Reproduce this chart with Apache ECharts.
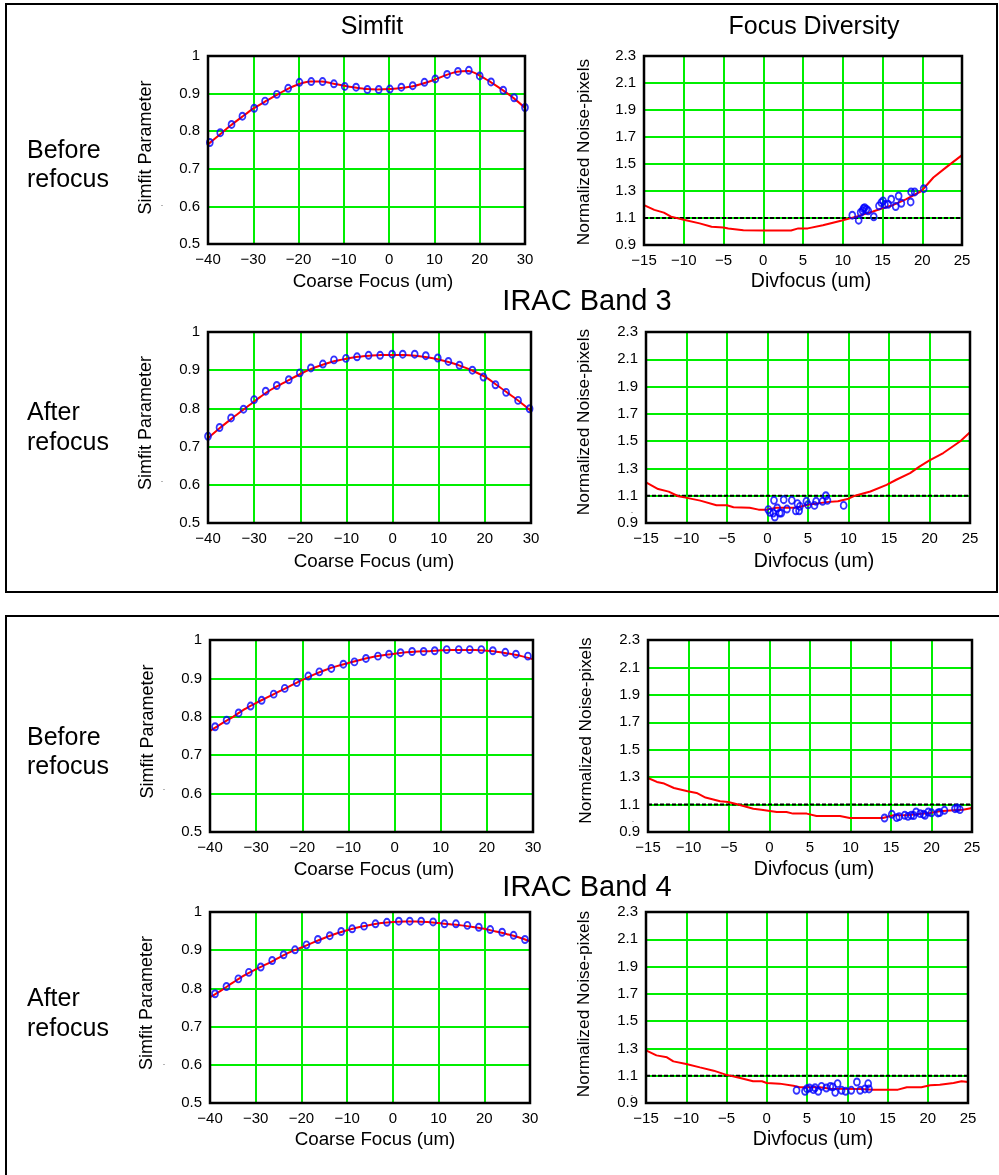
<!DOCTYPE html>
<html>
<head>
<meta charset="utf-8">
<script src="https://cdn.jsdelivr.net/npm/echarts@6/dist/echarts.min.js"></script>
<style>
html,body{margin:0;padding:0;background:#fff;}
#c{width:999px;height:1175px;}
</style>
</head>
<body>
<div id="c"></div>
<script>
// ---------------- DATA ----------------
// Axis ranges / tick labels
const simfitXRange = [-40, 30, 10];      // min, max, step
const simfitYRange = [0.5, 1.0, 0.1];
const noiseXRange  = [-15, 25, 5];
const noiseYRange  = [0.9, 2.3, 0.2];
const noiseThreshold = 1.1;

const columnTitles = ['Simfit', 'Focus Diversity'];
const bandTitles = ['IRAC Band 3', 'IRAC Band 4'];
const rowLabels = [['Before', 'refocus'], ['After', 'refocus'], ['Before', 'refocus'], ['After', 'refocus']];
const simfitXName = 'Coarse Focus (um)';
const simfitYName = 'Simfit Parameter';
const noiseXName = 'Divfocus (um)';
const noiseYName = 'Normalized Noise-pixels';

// Band 3, before refocus, Simfit
const b3BeforeSimfitPts = [[-39.6,0.770],[-37.3,0.796],[-34.8,0.818],[-32.4,0.840],[-29.8,0.861],[-27.4,0.880],[-24.8,0.898],[-22.3,0.914],[-19.8,0.930],[-17.2,0.932],[-14.7,0.932],[-12.2,0.926],[-9.8,0.919],[-7.3,0.917],[-4.8,0.911],[-2.3,0.911],[0.15,0.912],[2.7,0.917],[5.2,0.921],[7.8,0.930],[10.2,0.939],[12.8,0.951],[15.2,0.959],[17.6,0.962],[20.0,0.947],[22.5,0.931],[25.2,0.909],[27.6,0.889],[30.0,0.863]];
const b3BeforeSimfitFit = [[-40,0.765],[-37.5,0.790],[-35,0.815],[-32.5,0.838],[-30,0.860],[-27.5,0.878],[-25,0.895],[-22.5,0.912],[-20,0.925],[-17.5,0.932],[-15,0.932],[-12.5,0.927],[-10,0.921],[-7.5,0.916],[-5,0.912],[-2.5,0.911],[0,0.912],[2.5,0.915],[5,0.919],[7.5,0.927],[10,0.937],[12.5,0.949],[15,0.958],[17.5,0.960],[20,0.948],[22.5,0.930],[25,0.910],[27.5,0.888],[30,0.862]];

// Band 3, before refocus, Focus diversity
const b3BeforeNoisePts = [[11.2,1.121],[12.0,1.084],[12.25,1.141],[12.5,1.153],[12.75,1.177],[12.97,1.165],[13.2,1.153],[13.9,1.109],[14.56,1.190],[14.85,1.214],[15.06,1.227],[15.7,1.202],[16.1,1.239],[16.66,1.185],[17.03,1.263],[17.37,1.209],[18.54,1.219],[18.6,1.293],[19.05,1.293],[20.18,1.317],[15.3,1.200],[12.6,1.170]];
const b3BeforeNoiseFit = [[-15,1.195],[-13.7,1.160],[-12.5,1.140],[-11.6,1.110],[-10,1.087],[-8,1.060],[-6.5,1.035],[-5,1.030],[-4.4,1.023],[-2.5,1.010],[0,1.008],[3.5,1.008],[4.4,1.023],[5.6,1.023],[7.5,1.047],[9.9,1.082],[11.7,1.110],[13.8,1.148],[14.9,1.170],[16.3,1.195],[18,1.240],[19.9,1.300],[21.4,1.400],[23,1.475],[25,1.566]];

// Band 3, after refocus, Simfit
const b3AfterSimfitPts = [[-40,0.727],[-37.5,0.750],[-35,0.775],[-32.3,0.798],[-30,0.823],[-27.5,0.845],[-25.1,0.860],[-22.5,0.875],[-20.1,0.893],[-17.7,0.906],[-15.1,0.916],[-12.7,0.927],[-10.1,0.931],[-7.7,0.935],[-5.2,0.939],[-2.7,0.939],[-0.1,0.942],[2.2,0.942],[4.8,0.942],[7.2,0.938],[9.8,0.932],[12.1,0.923],[14.5,0.913],[17.3,0.900],[19.7,0.882],[22.3,0.862],[24.6,0.842],[27.2,0.821],[29.7,0.799]];
const b3AfterSimfitFit = [[-40,0.722],[-37.5,0.748],[-35,0.772],[-32.5,0.795],[-30,0.818],[-27.5,0.840],[-25,0.858],[-22.5,0.874],[-20,0.890],[-17.5,0.904],[-15,0.915],[-12.5,0.924],[-10,0.930],[-7.5,0.935],[-5,0.938],[-2.5,0.940],[0,0.940],[2.5,0.940],[5,0.938],[7.5,0.934],[10,0.928],[12.5,0.920],[15,0.910],[17.5,0.898],[20,0.883],[22.5,0.862],[25,0.840],[27.5,0.818],[30,0.793]];

// Band 3, after refocus, Focus diversity
const b3AfterNoisePts = [[0.1,0.998],[0.3,0.978],[0.7,0.973],[0.9,0.944],[1.2,1.010],[1.5,0.973],[1.7,0.973],[0.8,1.066],[2.0,1.071],[2.4,1.002],[3.0,1.066],[3.5,0.990],[3.7,1.042],[3.9,0.990],[4.0,1.022],[4.8,1.059],[5.0,1.034],[5.8,1.029],[6.0,1.059],[6.8,1.059],[7.2,1.100],[7.4,1.066],[9.4,1.029]];
const b3AfterNoiseFit = [[-15,1.198],[-13.5,1.149],[-12.2,1.130],[-11,1.096],[-10.1,1.086],[-8.3,1.064],[-6.3,1.030],[-5,1.030],[-4.2,1.015],[-2.2,1.012],[-1.1,0.998],[-0.1,0.998],[1.1,1.012],[3.6,1.012],[4.8,1.032],[7.3,1.053],[8.7,1.060],[10,1.078],[10.8,1.100],[12.7,1.131],[14.7,1.180],[15.9,1.217],[17.6,1.266],[18.8,1.315],[20,1.359],[21.7,1.413],[23.8,1.499],[25,1.565]];

// Band 4, before refocus, Simfit
const b4BeforeSimfitPts = [[-38.9,0.774],[-36.4,0.791],[-33.8,0.810],[-31.2,0.828],[-28.8,0.843],[-26.2,0.859],[-23.8,0.874],[-21.2,0.889],[-18.7,0.906],[-16.3,0.917],[-13.7,0.926],[-11.1,0.937],[-8.7,0.943],[-6.2,0.952],[-3.6,0.958],[-1.2,0.963],[1.3,0.967],[3.8,0.970],[6.3,0.970],[8.7,0.972],[11.3,0.975],[13.9,0.975],[16.3,0.975],[18.8,0.975],[21.3,0.972],[24.0,0.968],[26.3,0.963],[28.9,0.958]];
const b4BeforeSimfitFit = [[-40,0.763],[-37.5,0.782],[-35,0.800],[-32.5,0.820],[-30,0.836],[-27.5,0.851],[-25,0.866],[-22.5,0.881],[-20,0.896],[-17.5,0.910],[-15,0.922],[-12.5,0.932],[-10,0.940],[-7.5,0.948],[-5,0.955],[-2.5,0.960],[0,0.964],[2.5,0.968],[5,0.970],[7.5,0.971],[10,0.973],[12.5,0.974],[15,0.974],[17.5,0.974],[20,0.972],[22.5,0.969],[25,0.964],[27.5,0.958],[30,0.950]];

// Band 4, before refocus, Focus diversity
const b4BeforeNoisePts = [[14.2,1.002],[15.1,1.029],[15.7,1.005],[16.0,1.012],[16.7,1.022],[17.1,1.014],[17.5,1.022],[17.8,1.020],[18.1,1.046],[18.6,1.034],[19.0,1.030],[19.2,1.022],[19.6,1.046],[20.0,1.040],[20.8,1.039],[21.0,1.042],[21.6,1.058],[22.9,1.070],[23.2,1.075],[23.5,1.063]];
const b4BeforeNoiseFit = [[-15,1.294],[-13.9,1.265],[-13,1.253],[-11.8,1.221],[-10.1,1.197],[-9,1.185],[-7.9,1.151],[-6.1,1.124],[-5.1,1.119],[-4,1.102],[-2,1.070],[-1,1.063],[0.9,1.046],[2.1,1.046],[2.9,1.034],[4.6,1.034],[5.8,1.017],[8.7,1.017],[9.9,1.002],[14,1.002],[15.3,1.022],[16.9,1.022],[18.1,1.029],[19.8,1.039],[21,1.051],[22.7,1.058],[23.9,1.063],[25,1.075]];

// Band 4, after refocus, Simfit
const b4AfterSimfitPts = [[-38.9,0.786],[-36.4,0.805],[-33.8,0.825],[-31.5,0.842],[-28.9,0.856],[-26.4,0.873],[-23.9,0.888],[-21.4,0.901],[-18.9,0.914],[-16.4,0.928],[-13.8,0.938],[-11.3,0.949],[-8.9,0.956],[-6.3,0.963],[-3.8,0.969],[-1.3,0.973],[1.3,0.976],[3.7,0.976],[6.2,0.976],[8.8,0.974],[11.3,0.969],[13.8,0.969],[16.3,0.965],[18.8,0.960],[21.3,0.954],[23.9,0.947],[26.4,0.939],[28.9,0.928]];
const b4AfterSimfitFit = [[-40,0.777],[-37.5,0.795],[-35,0.815],[-32.5,0.834],[-30,0.850],[-27.5,0.864],[-25,0.880],[-22.5,0.895],[-20,0.907],[-17.5,0.920],[-15,0.932],[-12.5,0.943],[-10,0.952],[-7.5,0.960],[-5,0.966],[-2.5,0.971],[0,0.974],[2.5,0.975],[5,0.975],[7.5,0.974],[10,0.971],[12.5,0.968],[15,0.965],[17.5,0.961],[20,0.956],[22.5,0.949],[25,0.942],[27.5,0.934],[30,0.923]];

// Band 4, after refocus, Focus diversity
const b4AfterNoisePts = [[3.7,0.993],[4.75,0.986],[5.3,1.010],[5.8,0.998],[6.4,0.986],[6.8,1.022],[7.4,1.010],[7.9,1.022],[8.5,0.978],[8.8,1.042],[9.3,0.993],[9.8,0.986],[10.5,0.993],[11.2,1.054],[11.6,0.993],[12.2,1.003],[12.6,1.042],[12.7,1.003],[5.0,1.005],[6.0,1.012],[8.2,1.018]];
const b4AfterNoiseFit = [[-15,1.286],[-13.7,1.249],[-12.4,1.235],[-11.6,1.205],[-10,1.186],[-8.3,1.161],[-6.6,1.137],[-5.1,1.108],[-3.3,1.083],[-1.7,1.059],[-0.6,1.059],[0,1.047],[1.6,1.042],[3.3,1.027],[4.1,1.015],[6.6,1.015],[7.9,1.005],[11.6,1.003],[13.2,0.998],[16.3,0.998],[17.4,1.015],[19.2,1.015],[20.3,1.030],[21.5,1.034],[23.2,1.047],[24.2,1.059],[25,1.054]];

// ---------------- LAYOUT / STYLE ----------------
const FONT = '"Liberation Sans", Arial, Helvetica, sans-serif';
const GREEN = '#00ee00';
const panels = [
  {kind:'simfit', pts:b3BeforeSimfitPts, fit:b3BeforeSimfitFit, box:{left:208, top:56,  width:317, height:188}, yName:[146,147.5], xName:[373,282], dot:[162,204]},
  {kind:'noise',  pts:b3BeforeNoisePts,  fit:b3BeforeNoiseFit,  box:{left:644, top:56,  width:318, height:189}, yName:[584,152],   xName:[811,282], dot:[629,236]},
  {kind:'simfit', pts:b3AfterSimfitPts,  fit:b3AfterSimfitFit,  box:{left:208, top:332, width:323, height:191}, yName:[146,423],   xName:[374,562], dot:[162,480]},
  {kind:'noise',  pts:b3AfterNoisePts,   fit:b3AfterNoiseFit,   box:{left:646, top:332, width:324, height:191}, yName:[584,422],   xName:[814,562], dot:[632,511]},
  {kind:'simfit', pts:b4BeforeSimfitPts, fit:b4BeforeSimfitFit, box:{left:210, top:640, width:323, height:192}, yName:[148,731.5], xName:[374,870], dot:[164,788]},
  {kind:'noise',  pts:b4BeforeNoisePts,  fit:b4BeforeNoiseFit,  box:{left:648, top:640, width:324, height:192}, yName:[586,730.5], xName:[814,870], dot:[633,820]},
  {kind:'simfit', pts:b4AfterSimfitPts,  fit:b4AfterSimfitFit,  box:{left:210, top:912, width:320, height:191}, yName:[147,1003],  xName:[375,1140], dot:[164,1063]},
  {kind:'noise',  pts:b4AfterNoisePts,   fit:b4AfterNoiseFit,   box:{left:646, top:912, width:322, height:191}, yName:[584,1004],  xName:[813,1140], dot:[632,1094]}
];

function fmtTick(v){ return v < 0 ? '\u2212' + Math.abs(v) : String(v); }

const grids = [], xAxes = [], yAxes = [], series = [], graphics = [];

panels.forEach((p, i) => {
  const isSim = p.kind === 'simfit';
  const xr = isSim ? simfitXRange : noiseXRange;
  const yr = isSim ? simfitYRange : noiseYRange;
  grids.push({left:p.box.left, top:p.box.top, width:p.box.width, height:p.box.height, show:false, containLabel:false});
  xAxes.push({
    type:'value', gridIndex:i, min:xr[0], max:xr[1], interval:xr[2],
    axisLine:{show:false}, axisTick:{show:false},
    splitLine:{show:true, lineStyle:{color:GREEN, width:2}},
    axisLabel:{color:'#000', fontSize:15, fontFamily:FONT, margin:8, formatter:fmtTick}
  });
  yAxes.push({
    type:'value', gridIndex:i, min:yr[0], max:yr[1], interval:yr[2],
    axisLine:{show:false}, axisTick:{show:false},
    splitLine:{show:true, lineStyle:{color:GREEN, width:2}},
    axisLabel:{color:'#000', fontSize:15, fontFamily:FONT, margin:8}
  });
  if (!isSim) {
    series.push({
      type:'line', xAxisIndex:i, yAxisIndex:i, silent:true, showSymbol:false, z:3,
      data:[[xr[0], noiseThreshold],[xr[1], noiseThreshold]],
      lineStyle:{color:'#000', width:2, type:[4,2]}
    });
  }
  series.push({
    type:'line', xAxisIndex:i, yAxisIndex:i, data:p.fit, showSymbol:false, z:4,
    smooth: isSim ? 0.3 : false,
    lineStyle:{color:'#ff0000', width:2}
  });
  series.push({
    type:'scatter', xAxisIndex:i, yAxisIndex:i, data:p.pts, z:5,
    symbol:'circle', symbolSize:[6,7],
    itemStyle:{color:'rgba(255,255,255,0)', borderColor:'#0000ff', borderWidth:1.8}
  });
  // frame
  graphics.push({type:'rect', z:100, silent:true,
    shape:{x:p.box.left, y:p.box.top, width:p.box.width, height:p.box.height},
    style:{fill:'none', stroke:'#000', lineWidth:2.5}});
  // axis names
  graphics.push({type:'text', z:100, x:p.yName[0], y:p.yName[1], rotation:Math.PI/2,
    style:{text:isSim ? simfitYName : noiseYName, x:0, y:0, fontSize:isSim ? 18 : 17.3, fontFamily:FONT, fill:'#000',
      align:'center', verticalAlign:'middle', textAlign:'center', textVerticalAlign:'middle'}});
  graphics.push({type:'text', z:100, x:p.xName[0], y:p.xName[1],
    style:{text:isSim ? simfitXName : noiseXName, x:0, y:0, fontSize:isSim ? 18.8 : 19.5, fontFamily:FONT, fill:'#000',
      align:'center', verticalAlign:'middle', textAlign:'center', textVerticalAlign:'middle'}});
  graphics.push({type:'text', z:100, x:p.dot[0], y:p.dot[1],
    style:{text:'.', x:0, y:0, fontSize:9, fontFamily:FONT, fill:'#555',
      align:'center', verticalAlign:'middle', textAlign:'center', textVerticalAlign:'middle'}});
});

function txt(s, x, y, size, align){
  return {type:'text', z:100, x:x, y:y,
    style:{text:s, x:0, y:0, fontSize:size, fontFamily:FONT, fill:'#000',
      align:align || 'center', verticalAlign:'middle', textAlign:align || 'center', textVerticalAlign:'middle'}};
}
// column titles & band titles
graphics.push(txt(columnTitles[0], 372, 27, 25));
graphics.push(txt(columnTitles[1], 814, 27, 25));
graphics.push(txt(bandTitles[0], 587, 302, 29));
graphics.push(txt(bandTitles[1], 587, 888, 29));
// row labels
const rowLabelY = [[151, 180], [413, 443], [738, 767], [999, 1029]];
rowLabels.forEach((r, k) => {
  graphics.push(txt(r[0], 27, rowLabelY[k][0], 25, 'left'));
  graphics.push(txt(r[1], 27, rowLabelY[k][1], 25, 'left'));
});
// outer boxes
graphics.push({type:'rect', z:100, silent:true, shape:{x:6, y:4, width:991, height:588}, style:{fill:'none', stroke:'#000', lineWidth:2}});
graphics.push({type:'rect', z:100, silent:true, shape:{x:6, y:616, width:1010, height:600}, style:{fill:'none', stroke:'#000', lineWidth:2}});

const chart = echarts.init(document.getElementById('c'), null, {renderer:'canvas'});
chart.setOption({
  animation:false,
  backgroundColor:'#fff',
  textStyle:{fontFamily:FONT},
  grid:grids, xAxis:xAxes, yAxis:yAxes, series:series, graphic:graphics
});
</script>
</body>
</html>
